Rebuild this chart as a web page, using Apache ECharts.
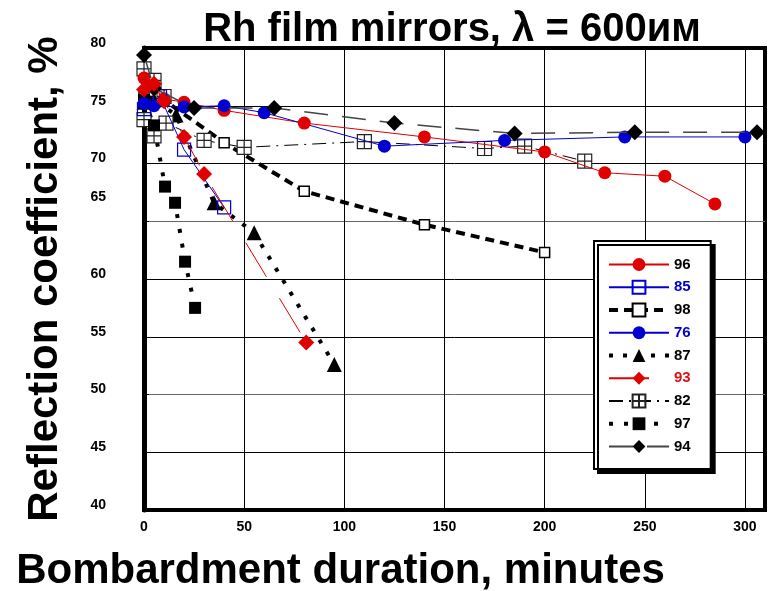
<!DOCTYPE html>
<html>
<head>
<meta charset="utf-8">
<script src="https://cdn.jsdelivr.net/npm/echarts@6/dist/echarts.min.js"></script>
<style>
  html, body { margin: 0; padding: 0; background: #fff; }
  #chart { width: 769px; height: 591px; }
</style>
</head>
<body>
<div id="chart"></div>
<script>
// [minutes, reflection %]
const s96 = [[0, 77.4], [10, 75.6], [20, 75.3], [40, 74.6], [80, 73.5], [140, 72.3], [200, 71.0], [230, 69.2], [260, 68.9], [285, 66.5]];
const s85 = [[0, 74.7], [8, 75.8], [20, 71.2], [40, 66.2]];
const s98 = [[0, 75.8], [10, 75.5], [40, 71.8], [80, 67.6], [140, 64.7], [200, 62.3]];
const s76 = [[0, 75.2], [5, 75.0], [20, 74.9], [40, 75.0], [60, 74.4], [120, 71.5], [180, 72.0], [240, 72.3], [300, 72.3]];
const s87 = [[0, 75.3], [5, 75.5], [16, 74.2], [35, 66.6], [55, 64.0], [95, 52.6]];
const s93 = [[0, 76.4], [5, 76.9], [10, 75.4], [20, 72.3], [30, 69.1], [81, 54.5]];
const s82 = [[0, 78.2], [5, 77.2], [10, 75.8], [0, 73.8], [5, 72.4], [11, 73.5], [30, 72.0], [50, 71.4], [110, 71.9], [170, 71.3], [190, 71.5], [220, 70.2]];
const s97 = [[0, 75.5], [5, 73.3], [10.5, 68.0], [15.5, 66.6], [20.5, 61.5], [25.5, 57.5]];
const s94 = [[0, 79.4], [5, 76.5], [25, 74.8], [65, 74.8], [125, 73.5], [185, 72.6], [245, 72.7], [306, 72.7]];

const legendNames = ['96', '85', '98', '76', '87', '93', '82', '97', '94'];
const legendColors = ['#000', '#0000cc', '#000', '#0000cc', '#000', '#e01010', '#000', '#000', '#000'];

const RED = '#e00000';
const BLUE = '#0000d0';
const gridSymbol = 'path://M0,0H20V20H0Z M10,0V20 M0,10H20';
const FONT = "'Liberation Sans Narrow', 'Liberation Sans', Arial, sans-serif";
const FONT_WIDE = "'Liberation Sans', Arial, sans-serif";

const thick = ['98', '87', '97'];

const chart = echarts.init(document.getElementById('chart'));

chart.setOption({
  backgroundColor: '#fff',
  animation: false,
  title: {
    text: 'Rh film mirrors, λ = 600им',
    left: 447,
    textAlign: 'center',
    top: 5,
    textStyle: {
      fontFamily: FONT,
      fontWeight: 'bold',
      fontSize: 40,
      color: '#000'
    }
  },
  grid: {
    left: 144,
    right: 4,
    top: 48,
    bottom: 81,
    outerBoundsMode: 'none',
    containLabel: false,
    show: true,
    borderColor: '#000',
    borderWidth: 4
  },
  legend: {
    orient: 'vertical',
    left: 594,
    top: 241,
    padding: [16, 20, 15, 13],
    itemWidth: 60,
    itemHeight: 16,
    itemGap: 7.75,
    backgroundColor: '#fff',
    borderColor: '#000',
    borderWidth: 2,
    shadowColor: '#000',
    shadowBlur: 0,
    shadowOffsetX: 4,
    shadowOffsetY: 4,
    textStyle: {
      fontFamily: FONT_WIDE,
      fontWeight: 'bold',
      fontSize: 15,
      lineHeight: 14
    },
    data: legendNames.map((n, i) => {
      const item = { name: n, textStyle: { color: legendColors[i] } };
      if (thick.includes(n)) item.lineStyle = { width: 4 };
      return item;
    })
  },
  xAxis: {
    type: 'value',
    min: 0,
    max: 310,
    interval: 50,
    name: 'Bombardment duration, minutes',
    nameLocation: 'middle',
    nameGap: 40,
    nameTextStyle: {
      fontFamily: FONT_WIDE,
      fontWeight: 'bold',
      fontSize: 42,
      color: '#000',
      padding: [0, 228, 0, 0]
    },
    axisLine: { show: true, lineStyle: { color: '#000', width: 4 } },
    axisTick: { show: false },
    axisLabel: {
      showMaxLabel: false,
      margin: 10,
      fontFamily: FONT,
      fontWeight: 'bold',
      fontSize: 14,
      color: '#000'
    },
    splitLine: { show: true, lineStyle: { color: '#000', width: 1 } }
  },
  yAxis: {
    type: 'value',
    min: 40,
    max: 80,
    interval: 5,
    name: 'Reflection coefficient, %',
    nameLocation: 'middle',
    nameGap: 78,
    nameRotate: 90,
    nameTextStyle: {
      fontFamily: FONT_WIDE,
      fontWeight: 'bold',
      fontSize: 42,
      color: '#000'
    },
    axisLine: { show: true, lineStyle: { color: '#000', width: 5 } },
    axisTick: { show: true, inside: true, length: 5, lineStyle: { color: '#000', width: 1 } },
    axisLabel: {
      margin: 38,
      fontFamily: FONT,
      fontWeight: 'bold',
      fontSize: 14,
      color: '#000',
      padding: [0, 0, 10, 0],
      formatter: v => (v === 65 ? '{s|65}' : String(v)),
      rich: {
        s: {
          fontFamily: FONT,
          fontWeight: 'bold',
          fontSize: 14,
          color: '#000',
          padding: [0, 0, 38, 0]
        }
      }
    },
    splitLine: {
      show: true,
      lineStyle: {
        color: ['#000', '#000', '#666', '#000', '#000', '#666', '#000', '#000', '#000'],
        width: 1
      }
    }
  },
  series: [
    {
      name: '96', type: 'line', data: s96, z: 5,
      symbol: 'circle', symbolSize: 13,
      itemStyle: { color: RED },
      lineStyle: { color: RED, width: 1 }
    },
    {
      name: '85', type: 'line', data: s85, z: 6,
      symbol: 'rect', symbolSize: 13,
      itemStyle: { color: 'rgba(255,255,255,0)', borderColor: BLUE, borderWidth: 1.2 },
      lineStyle: { color: BLUE, width: 1 }
    },
    {
      name: '98', type: 'line', data: s98, z: 4,
      symbol: 'rect', symbolSize: 10,
      itemStyle: { color: '#fff', borderColor: '#000', borderWidth: 1.5 },
      lineStyle: { color: '#000', width: 4, type: [9, 6] }
    },
    {
      name: '76', type: 'line', data: s76, z: 5,
      symbol: 'circle', symbolSize: 13,
      itemStyle: { color: BLUE },
      lineStyle: { color: BLUE, width: 1 }
    },
    {
      name: '87', type: 'line', data: s87, z: 4,
      symbol: 'triangle', symbolSize: 15,
      itemStyle: { color: '#000' },
      lineStyle: { color: '#000', width: 4, type: [4, 10] }
    },
    {
      name: '93', type: 'line', data: s93, z: 7,
      symbol: 'diamond', symbolSize: 16,
      itemStyle: { color: RED },
      lineStyle: { color: RED, width: 1, type: [40, 25] }
    },
    {
      name: '82', type: 'line', data: s82, z: 4,
      symbol: gridSymbol, symbolSize: 14,
      itemStyle: { color: '#fff', borderColor: '#222', borderWidth: 1.2 },
      lineStyle: { color: '#000', width: 1, type: [14, 6, 2, 6] }
    },
    {
      name: '97', type: 'line', data: s97, z: 4,
      symbol: 'rect', symbolSize: 12,
      itemStyle: { color: '#000' },
      lineStyle: { color: '#000', width: 4, type: [4, 11] }
    },
    {
      name: '94', type: 'line', data: s94, z: 6,
      symbol: 'diamond', symbolSize: 16,
      itemStyle: { color: '#000' },
      lineStyle: { color: '#444', width: 1.5, type: [24, 14] }
    }
  ]
});
</script>
</body>
</html>
